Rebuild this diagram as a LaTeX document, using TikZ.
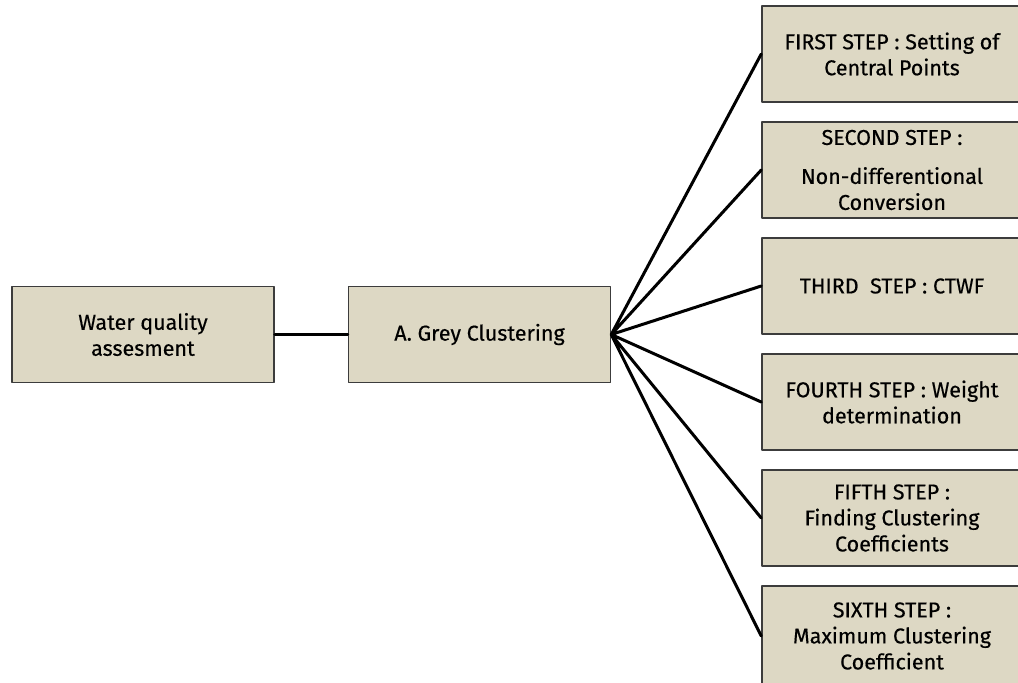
\documentclass[tikz,border=0pt]{standalone}
\usepackage{fontspec}
\setmainfont{Fira Sans}[FakeBold=0.4]
\definecolor{boxfill}{RGB}{221,216,196}
\definecolor{boxline}{RGB}{60,60,60}
\begin{document}
\begin{tikzpicture}[x=1pt,y=-1pt, font=\fontsize{21.5}{26}\selectfont, line join=round, line cap=round,
		box/.style={draw=boxline, fill=boxfill, line width=1.5pt, align=center, inner sep=0pt},
		mainbox/.style={box, minimum width=262, minimum height=96},
		stepbox/.style={box, minimum width=260, minimum height=96},
		link/.style={line width=3pt}]
		\useasboundingbox (0,0) rectangle (1018,683);
		\node[mainbox] (quality) at (143,334.5) {Water quality\\assesment};
		\node[mainbox] (grey) at (479.5,334.5) {A. Grey Clustering};
		\node[stepbox] (first) at (892,54) {FIRST STEP : Setting of\\Central Points};
		\node[stepbox] (second) at (892,170) {SECOND STEP :\\[13pt]Non-differentional\\Conversion};
		\node[stepbox] (third) at (892,286) {THIRD\ \ STEP : CTWF};
		\node[stepbox] (fourth) at (892,402) {FOURTH STEP : Weight\\determination};
		\node[stepbox] (fifth) at (892,518) {FIFTH STEP :\\Finding Clustering\\Coefficients};
		\node[stepbox, minimum height=100] (sixth) at (892,636) {SIXTH STEP :\\Maximum Clustering\\Coefficient};
		\draw[link] (quality) -- (grey);
		\draw[link]
		(grey.east)--(first.west)
		(grey.east)--(second.west)
		(grey.east)--(third.west)
		(grey.east)--(fourth.west)
		(grey.east)--(fifth.west)
		(grey.east)--(sixth.west)
		;
	\end{tikzpicture}
\end{document}
